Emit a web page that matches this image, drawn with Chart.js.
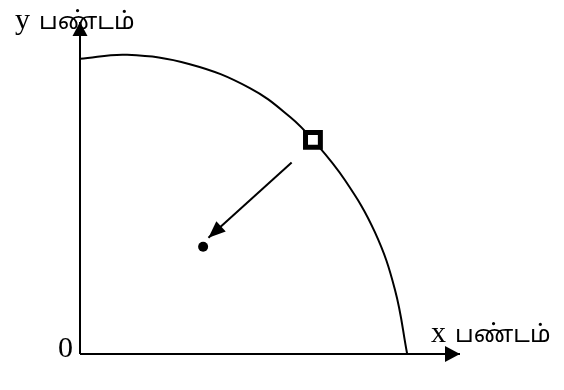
<!DOCTYPE html>
<html>
<head>
<meta charset="utf-8">
<script src="https://cdn.jsdelivr.net/npm/chart.js@4"></script>
<style>
  body { margin: 0; background: #fff; }
  #wrap { width: 564px; height: 390px; }
</style>
</head>
<body>
<div id="wrap"><canvas id="ppc"></canvas></div>
<script>
// production possibility curve (x 0..100, y 0..100)
const curveX = [0, 12.4, 28.9, 44.7, 55.3, 61.3, 69.7, 77.6, 82.9, 86.1];
const curveY = [88.9, 90.1, 87.3, 80.1, 71.4, 64.5, 52.4, 36.7, 19.3, 0];
const pointOn = [61.3, 64.5];     // square on the curve
const pointIn = [32.4, 32.3];     // dot inside
const moveFrom = [55.7, 57.7];    // arrow start
const moveTo = [33.8, 35.0];      // arrow tip
const axisMax = 100;
const yLabel = ["y", "பண்டம்"];
const xLabel = ["x", "பண்டம்"];
const originLabel = "0";

const toPts = (xs, ys) => xs.map((x, i) => ({ x: x, y: ys[i] }));

// draws a filled triangle at the end of datasets that have arrowHead set
const arrowHeads = {
  id: "arrowHeads",
  afterDatasetsDraw(chart) {
    const ctx = chart.ctx;
    chart.data.datasets.forEach((ds, i) => {
      if (!ds.arrowHead) return;
      const pts = chart.getDatasetMeta(i).data;
      const a = pts[pts.length - 2], b = pts[pts.length - 1];
      const ang = Math.atan2(b.y - a.y, b.x - a.x);
      const len = ds.arrowHead.length, half = ds.arrowHead.width / 2;
      ctx.save();
      ctx.translate(b.x, b.y);
      ctx.rotate(ang);
      ctx.beginPath();
      ctx.moveTo(0, 0);
      ctx.lineTo(-len, half);
      ctx.lineTo(-len, -half);
      ctx.closePath();
      ctx.fillStyle = "#000";
      ctx.fill();
      ctx.restore();
    });
  }
};

// axis captions placed next to the axis ends
const captions = {
  id: "captions",
  afterDraw(chart) {
    const ctx = chart.ctx;
    const sx = chart.scales.x, sy = chart.scales.y;
    const x0 = sx.getPixelForValue(0), y0 = sy.getPixelForValue(0);
    const xEnd = sx.getPixelForValue(axisMax), yEnd = sy.getPixelForValue(axisMax);
    const serif = "30px 'Liberation Serif', 'Times New Roman', serif";
    const tamil = "24px 'Noto Sans Tamil', 'Lohit Tamil', 'Noto Sans', sans-serif";
    ctx.save();
    ctx.fillStyle = "#000";
    ctx.textBaseline = "alphabetic";

    ctx.font = serif;
    ctx.textAlign = "right";
    ctx.fillText(originLabel, x0 - 7, y0 + 3);

    ctx.textAlign = "left";
    ctx.fillText(yLabel[0], x0 - 65, yEnd + 7);
    ctx.fillText(xLabel[0], xEnd - 29, y0 - 12);

    ctx.font = tamil;
    ctx.fillText(yLabel[1], x0 - 41, yEnd + 7);
    ctx.fillText(xLabel[1], xEnd - 5, y0 - 12);
    ctx.restore();
  }
};

new Chart("ppc", {
  type: "scatter",
  data: {
    datasets: [
      {
        data: toPts([0, 0], [0, axisMax]),
        showLine: true, borderColor: "#000", borderWidth: 2, pointRadius: 0,
        arrowHead: { length: 14, width: 15 }
      },
      {
        data: toPts([0, axisMax], [0, 0]),
        showLine: true, borderColor: "#000", borderWidth: 2, pointRadius: 0,
        arrowHead: { length: 15, width: 16 }
      },
      {
        data: toPts(curveX, curveY),
        showLine: true, borderColor: "#000", borderWidth: 2, pointRadius: 0,
        tension: 0.4
      },
      {
        data: toPts([moveFrom[0], moveTo[0]], [moveFrom[1], moveTo[1]]),
        showLine: true, borderColor: "#000", borderWidth: 2, pointRadius: 0,
        arrowHead: { length: 17, width: 14 }
      },
      {
        data: [{ x: pointIn[0], y: pointIn[1] }],
        order: -1,
        pointStyle: "circle", pointRadius: 5,
        backgroundColor: "#000", borderColor: "#000", borderWidth: 0
      },
      {
        data: [{ x: pointOn[0], y: pointOn[1] }],
        order: -2,
        pointStyle: "rect", pointRadius: 10.5,
        backgroundColor: "#fff", borderColor: "#000", borderWidth: 5
      }
    ]
  },
  options: {
    responsive: true,
    maintainAspectRatio: false,
    animation: false,
    clip: false,
    layout: { padding: { left: 80, right: 104, top: 22, bottom: 36 } },
    scales: {
      x: { type: "linear", min: 0, max: axisMax, display: false },
      y: { type: "linear", min: 0, max: axisMax, display: false }
    },
    plugins: {
      legend: false,
      tooltip: { enabled: false }
    }
  },
  plugins: [arrowHeads, captions]
});
</script>
</body>
</html>
